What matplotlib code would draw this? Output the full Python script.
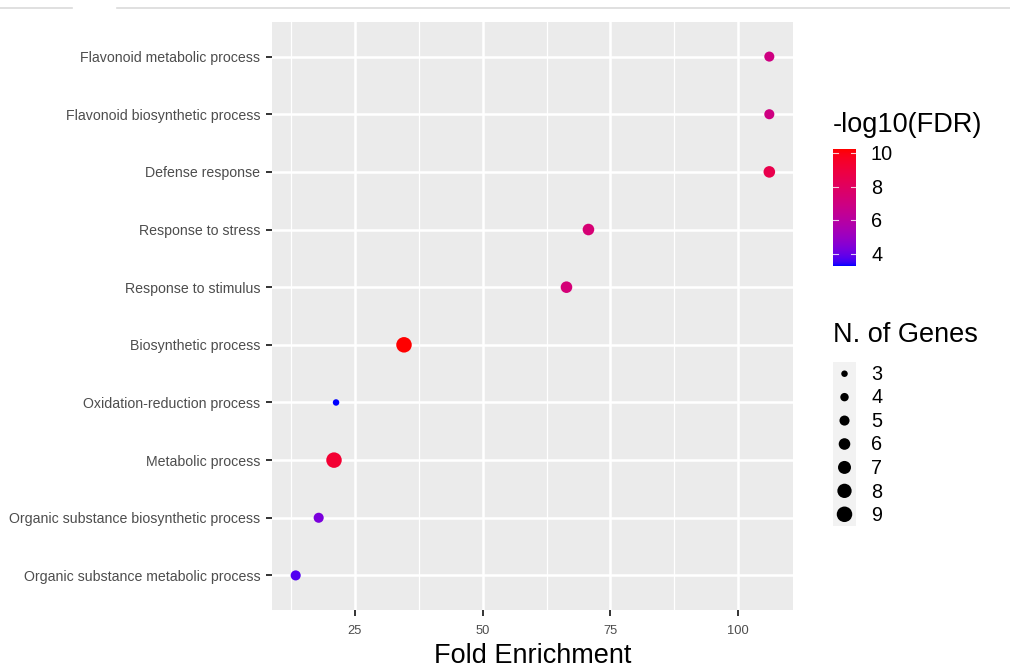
import numpy as np
import matplotlib
matplotlib.use("Agg")
import matplotlib.pyplot as plt
from matplotlib.colors import ListedColormap, Normalize
from matplotlib.lines import Line2D

plt.rcParams["font.family"] = ["Liberation Sans", "DejaVu Sans"]

# ── Dati ─────────────────────────────────────────────────────────────────────
terms = [
    "Flavonoid metabolic process",
    "Flavonoid biosynthetic process",
    "Defense response",
    "Response to stress",
    "Response to stimulus",
    "Biosynthetic process",
    "Oxidation-reduction process",
    "Metabolic process",
    "Organic substance biosynthetic process",
    "Organic substance metabolic process",
]
fold_enrichment = [106.1, 106.1, 106.1, 70.7, 66.4, 34.6, 21.3, 20.9, 17.9, 13.4]
neg_log10_fdr = [7.0, 7.0, 8.6, 7.4, 7.3, 10.24, 3.29, 9.3, 4.3, 3.7]
n_genes = [5, 5, 6, 6, 6, 9, 3, 9, 5, 5]

size_breaks = [3, 4, 5, 6, 7, 8, 9]
color_breaks = [4, 6, 8, 10]
x_breaks = [25, 50, 75, 100]
x_minor = [12.5, 37.5, 62.5, 87.5]

FDR_MIN, FDR_MAX = min(neg_log10_fdr), max(neg_log10_fdr)
N_MIN, N_MAX = 3, 9
D_MIN, D_MAX = 6.5, 15.5   # diametro in pixel (dpi=100)
PANEL_BG = "#EBEBEB"
TXT_GREY = "#4D4D4D"


# ── Gradiente blu→rosso interpolato in Lab (come ggplot) ─────────────────────
def srgb_to_lab(rgb):
    rgb = np.asarray(rgb, float)
    lin = np.where(rgb <= 0.04045, rgb / 12.92, ((rgb + 0.055) / 1.055) ** 2.4)
    m = np.array([[0.4124, 0.3576, 0.1805],
                  [0.2126, 0.7152, 0.0722],
                  [0.0193, 0.1192, 0.9505]])
    xyz = m @ lin / np.array([0.95047, 1.0, 1.08883])
    f = np.where(xyz > 0.008856, np.cbrt(xyz), 7.787 * xyz + 16 / 116)
    return np.array([116 * f[1] - 16, 500 * (f[0] - f[1]), 200 * (f[1] - f[2])])


def lab_to_srgb(lab):
    L, a, b = lab
    fy = (L + 16) / 116
    fx, fz = fy + a / 500, fy - b / 200
    f = np.array([fx, fy, fz])
    xyz = np.where(f ** 3 > 0.008856, f ** 3, (f - 16 / 116) / 7.787)
    xyz = xyz * np.array([0.95047, 1.0, 1.08883])
    m = np.array([[3.2406, -1.5372, -0.4986],
                  [-0.9689, 1.8758, 0.0415],
                  [0.0557, -0.2040, 1.0570]])
    lin = np.clip(m @ xyz, 0, 1)
    rgb = np.where(lin <= 0.0031308, 12.92 * lin, 1.055 * lin ** (1 / 2.4) - 0.055)
    return np.clip(rgb, 0, 1)


lab_lo = srgb_to_lab([0, 0, 1])
lab_hi = srgb_to_lab([1, 0, 0])
cmap = ListedColormap([lab_to_srgb(lab_lo + t * (lab_hi - lab_lo))
                       for t in np.linspace(0, 1, 256)])
norm = Normalize(FDR_MIN, FDR_MAX)


def marker_area(n):
    n = np.asarray(n, float)
    frac = (np.sqrt(n) - np.sqrt(N_MIN)) / (np.sqrt(N_MAX) - np.sqrt(N_MIN))
    d_px = D_MIN + frac * (D_MAX - D_MIN)
    return (d_px * 0.72) ** 2


# ── Figura ───────────────────────────────────────────────────────────────────
W, H = 1010, 668
fig = plt.figure(figsize=(W / 100, H / 100), dpi=100)


def box(l, t, r, b):
    return [l / W, 1 - b / H, (r - l) / W, (b - t) / H]


# linea "tab" del browser in alto
for xs in ([0, 72], [117, W]):
    fig.add_artist(Line2D([xs[0] / W, xs[1] / W], [1 - 8 / H] * 2,
                          color="#DADADA", lw=1.2))

ax = fig.add_axes(box(272, 22, 793, 610))
ax.set_facecolor(PANEL_BG)
for s in ax.spines.values():
    s.set_visible(False)

ypos = np.arange(len(terms))[::-1]
for xv in x_minor:
    ax.axvline(xv, color="white", lw=0.9, zorder=0)
for xv in x_breaks:
    ax.axvline(xv, color="white", lw=1.8, zorder=0)
for yv in ypos:
    ax.axhline(yv, color="white", lw=1.8, zorder=0)

ax.scatter(fold_enrichment, ypos, s=marker_area(n_genes),
           c=neg_log10_fdr, cmap=cmap, norm=norm, linewidths=0, zorder=3)

xr = max(fold_enrichment) - min(fold_enrichment)
ax.set_xlim(min(fold_enrichment) - 0.05 * xr, max(fold_enrichment) + 0.05 * xr)
ax.set_ylim(-0.6, len(terms) - 0.4)
ax.set_xticks(x_breaks)
ax.set_xticklabels([str(v) for v in x_breaks])
ax.set_yticks(ypos)
ax.set_yticklabels(terms)
ax.tick_params(axis="both", colors="#333333", length=4, width=1.4,
               labelcolor=TXT_GREY)
ax.tick_params(axis="y", labelsize=10.2, pad=4.5)
ax.tick_params(axis="x", labelsize=9.3, pad=7)
ax.set_xlabel("Fold Enrichment", fontsize=19.5, color="black", labelpad=4)

# ── Legenda colore ───────────────────────────────────────────────────────────
fig.text(833 / W, 1 - 125 / H, "-log10(FDR)", fontsize=19.5, va="center",
         ha="left")
cb_top, cb_bot = 149, 266
cax = fig.add_axes(box(833, cb_top, 856, cb_bot))
grad = np.linspace(FDR_MIN, FDR_MAX, 200).reshape(-1, 1)
cax.imshow(grad, aspect="auto", origin="lower", cmap=cmap, norm=norm,
           extent=[0, 1, FDR_MIN, FDR_MAX])
cax.set_xlim(0, 1)
cax.set_ylim(FDR_MIN, FDR_MAX)
for s in cax.spines.values():
    s.set_visible(False)
cax.set_xticks([])
cax.set_yticks([])
for v in color_breaks:
    cax.plot([0, 0.2], [v, v], color="white", lw=0.8, alpha=0.8)
    cax.plot([0.8, 1], [v, v], color="white", lw=0.8, alpha=0.8)
    yy = cb_top + (FDR_MAX - v) / (FDR_MAX - FDR_MIN) * (cb_bot - cb_top)
    fig.text(871 / W, 1 - (yy + 1.5) / H, str(v), fontsize=14.3,
             va="center", ha="left")

# ── Legenda dimensione ───────────────────────────────────────────────────────
fig.text(833 / W, 1 - 335 / H, "N. of Genes", fontsize=19.5, va="center",
         ha="left")
sax = fig.add_axes(box(833, 362, 856, 526))
sax.set_facecolor("#F2F2F2")
for s in sax.spines.values():
    s.set_visible(False)
sax.set_xticks([])
sax.set_yticks([])
ky = np.arange(len(size_breaks))[::-1]
sax.scatter([0.5] * len(size_breaks), ky, s=marker_area(size_breaks),
            color="black", linewidths=0)
sax.set_xlim(0, 1)
sax.set_ylim(-0.5, len(size_breaks) - 0.5)
for i, v in enumerate(size_breaks):
    fig.text(871 / W, 1 - (374 + i * 23.6) / H, str(v), fontsize=14.3,
             va="center", ha="left")

fig.savefig("out.png", dpi=100)
